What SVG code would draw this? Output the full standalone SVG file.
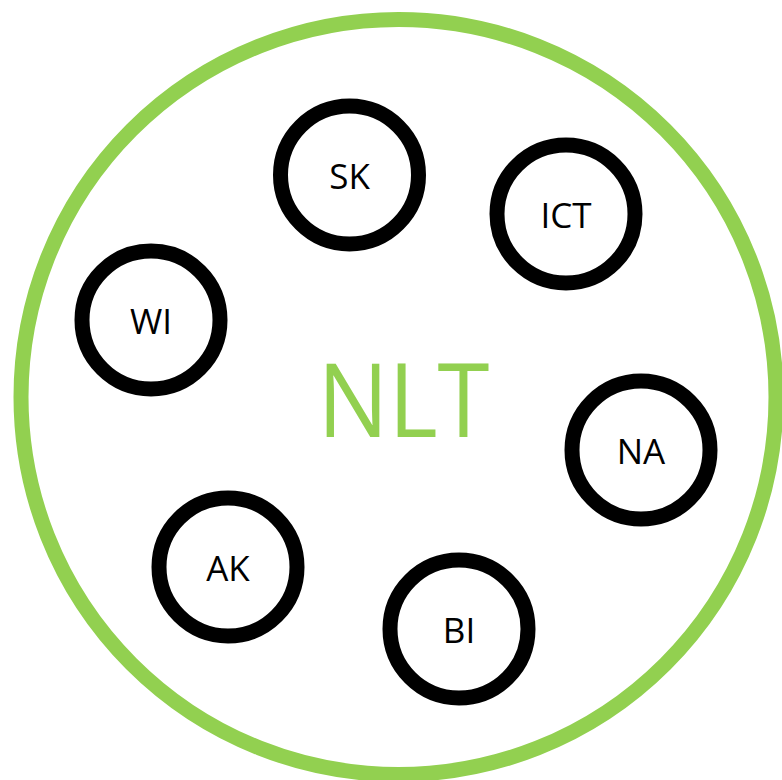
<svg xmlns="http://www.w3.org/2000/svg" width="782" height="780" viewBox="0 0 782 780">
<style>
.node circle{fill:#fff;stroke:#000;stroke-width:15}
.node text{font-family:"Open Sans","Liberation Sans",sans-serif;font-size:35px;fill:#000;text-anchor:middle}
.outer{fill:#fff;stroke:#92d050;stroke-width:15}
.title{font-family:"Open Sans","Liberation Sans",sans-serif;font-size:103px;fill:#92d050;text-anchor:middle}
</style>
<rect width="782" height="780" fill="#fff"/>
<g id="NLT">
<circle class="outer" cx="398.5" cy="397" r="377.5"/>
<text class="title" x="403.5" y="437" textLength="172" lengthAdjust="spacingAndGlyphs">NLT</text>
</g>
<g id="connectors"></g>
<g id="SK" class="node"><circle cx="349.5" cy="175" r="69"/><text x="349.5" y="189">SK</text></g>
<g id="ICT" class="node"><circle cx="566" cy="214" r="69"/><text x="566" y="228">ICT</text></g>
<g id="WI" class="node"><circle cx="151" cy="320" r="69"/><text x="151" y="334">WI</text></g>
<g id="NA" class="node"><circle cx="641" cy="450" r="69"/><text x="641" y="464">NA</text></g>
<g id="AK" class="node"><circle cx="228" cy="567" r="69"/><text x="228" y="581">AK</text></g>
<g id="BI" class="node"><circle cx="459" cy="629" r="69"/><text x="459" y="643">BI</text></g>
</svg>
